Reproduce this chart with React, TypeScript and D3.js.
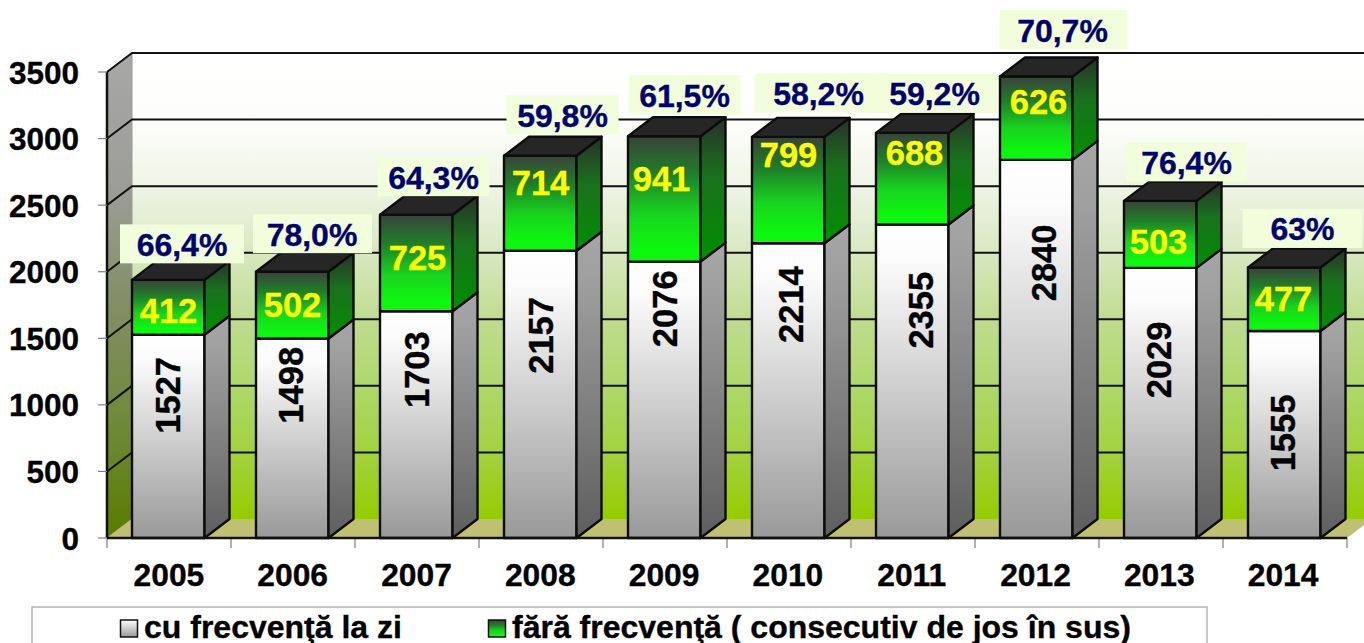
import React from "react";
import * as d3 from "d3";

const years = ["2005","2006","2007","2008","2009","2010","2011","2012","2013","2014"];
const dayValues = [1527,1498,1703,2157,2076,2214,2355,2840,2029,1555];
const distanceValues = [412,502,725,714,941,799,688,626,503,477];
const percentLabels = ["66,4%","78,0%","64,3%","59,8%","61,5%","58,2%","59,2%","70,7%","76,4%","63%"];
const yTicks = [0,500,1000,1500,2000,2500,3000,3500];
const legendDay = "cu frecvenţă la zi";
const legendDistance = "fără frecvenţă ( consecutiv de jos în sus)";

// hand placement of the labels, as in the source slide (pixel shifts from the default place)
const pctShiftX = [13.5,19.5,17,22,20,30,22,26,26,18];
const pctShiftY = [-36,-38,-38,-41,-41.5,-44,-39.6,-47,-39,-39];
const pctBoxLeft = [62,59,56,56,56,64,66,63,60,60];
const pctBoxRight = [62,60,56,56,56,65,63,65,60,60];
const greenShiftX = [0,0,1,0,-3,0,2,2,-2,-1];
const greenShiftY = [3.5,0,-4.5,-20.5,-20,-35.5,-26,-16.5,7.5,0];
const grayShiftX = [-0.5,-1.5,0.5,0.5,0.5,2.5,8.5,7.5,-1.5,-1.5];
const grayShiftY = [-41,-53,-55,-59,-91,-86,-71,-86,-43,-1.5];

const W = 1364, H = 643;
const depthX = 25, depthY = 19, barW = 72.5;
const FONT = "'Liberation Sans', Arial, sans-serif";
const HEAVY = { stroke: "currentColor", strokeWidth: 0.35 };

export default function App() {
  const y = d3.scaleLinear().domain([0, 3500]).range([538, 72]);
  const x = d3.scaleBand().domain(years).range([107, 1347]);
  const xLabel = d3.scaleBand().domain(years).range([107, 1345]);
  const poly = (p: number[][]) => p.map((q) => q.join(",")).join(" ");
  const x0 = 107, x1 = 1347;
  const stacked = d3.stack().keys(["day", "dist"])(
    years.map((yr, i) => ({ yr, day: dayValues[i], dist: distanceValues[i] })) as any
  );

  const stops = (s: [number, string][]) => s.map(([o, c], i) => <stop key={i} offset={o} stopColor={c} />);
  const box = (bx: number, top: number, bot: number, front: string, side: string, capTop: boolean) => (
    <g stroke="#0c0c0c" strokeWidth={2.4} strokeLinejoin="round">
      <rect x={bx} y={top} width={barW} height={bot - top} fill={`url(#${front})`} />
      <polygon points={poly([[bx + barW, top], [bx + barW + depthX, top - depthY], [bx + barW + depthX, bot - depthY], [bx + barW, bot]])} fill={`url(#${side})`} />
      {capTop && <polygon points={poly([[bx, top], [bx + depthX, top - depthY], [bx + barW + depthX, top - depthY], [bx + barW, top]])} fill="#262626" />}
    </g>
  );

  return (
    <svg width={W} height={H} viewBox={`0 0 ${W} ${H}`} style={{ position: "fixed", left: 0, top: 0, display: "block", background: "#fff" }}>
      <defs>
        <linearGradient id="wall" x1="0" y1="0" x2="0" y2="1">
          {stops([[0, "#ffffff"], [0.15, "#fdfdfa"], [0.29, "#eef4e4"], [0.43, "#d8e8c0"], [0.57, "#c0dc90"], [0.72, "#aed868"], [0.86, "#a2d23e"], [1, "#96cc00"]])}
        </linearGradient>
        <linearGradient id="leftWall" x1="0" y1="0" x2="0" y2="1">
          {stops([[0, "#a8a8a8"], [0.3, "#9a9c94"], [0.5, "#848f68"], [0.75, "#6f8a3c"], [1, "#5a7c00"]])}
        </linearGradient>
        <linearGradient id="grayFront" x1="0" y1="0" x2="0" y2="1">
          {stops([[0, "#ffffff"], [0.12, "#fbfbfb"], [1, "#999999"]])}
        </linearGradient>
        <linearGradient id="graySide" x1="0" y1="0" x2="0" y2="1">
          {stops([[0, "#a6a6a6"], [0.15, "#a0a0a0"], [1, "#5e5e5e"]])}
        </linearGradient>
        <linearGradient id="greenFront" x1="0" y1="0" x2="0" y2="1">
          {stops([[0, "#3a423a"], [0.3, "#1f7f28"], [0.62, "#18d41e"], [0.9, "#0cf80f"], [1, "#0cf80f"]])}
        </linearGradient>
        <linearGradient id="greenSide" x1="0" y1="0" x2="0" y2="1">
          {stops([[0, "#2a2f2a"], [0.4, "#1a701e"], [1, "#009000"]])}
        </linearGradient>
        <linearGradient id="swGray" x1="0" y1="0" x2="0" y2="1">
          {stops([[0, "#ffffff"], [1, "#999999"]])}
        </linearGradient>
      </defs>

      {/* walls and floor */}
      <rect x={x0 + depthX} y={y(3500) - depthY} width={x1 - x0} height={y(0) - y(3500)} fill="url(#wall)" />
      <polygon points={poly([[x0, y(3500)], [x0 + depthX, y(3500) - depthY], [x0 + depthX, y(0) - depthY], [x0, y(0)]])} fill="url(#leftWall)" stroke="#9a9a9a" strokeWidth={1} />
      <polygon points={poly([[x0, y(0)], [x0 + depthX, y(0) - depthY], [x1 + depthX, y(0) - depthY], [x1, y(0)]])} fill="#c0c072" />

      {/* gridlines */}
      {yTicks.filter((t) => t > 0).map((t) => (
        <g key={t} fill="none" stroke="#111" strokeWidth={2}>
          <polyline points={poly([[x0, y(t)], [x0 + depthX, y(t) - depthY], [x1 + depthX, y(t) - depthY]])} />
        </g>
      ))}

      {/* axes */}
      <line x1={x0} x2={x0} y1={y(3500)} y2={y(0)} stroke="#111" strokeWidth={2.5} />
      {yTicks.map((t) => (
        <g key={t}>
          <line x1={98} x2={x0} y1={y(t)} y2={y(t)} stroke="#808080" strokeWidth={1.2} />
          <text x={79} y={y(t) + 0.5} textAnchor="end" dominantBaseline="central" fontFamily={FONT} fontWeight="bold" fontSize={31.5} fill="#000" style={{ color: "#000" }} {...HEAVY}>{t}</text>
        </g>
      ))}
      {[...years.map((yr) => x(yr)!), x1].map((tx, i) => (
        <line key={i} x1={tx} x2={tx} y1={y(0)} y2={y(0) + 10} stroke="#808080" strokeWidth={1.2} />
      ))}

      {/* bars */}
      {years.map((yr, i) => {
        const bx = x(yr)! + depthX;
        const s0 = stacked[0][i], s1 = stacked[1][i];
        return (
          <g key={yr}>
            {box(bx, y(s0[1]), y(s0[0]), "grayFront", "graySide", false)}
            {box(bx, y(s1[1]), y(s1[0]), "greenFront", "greenSide", true)}
          </g>
        );
      })}
      <line x1={x0} x2={x1} y1={y(0)} y2={y(0)} stroke="#111" strokeWidth={2.6} />

      {/* value labels */}
      {years.map((yr, i) => {
        const cx = x(yr)! + depthX + 73 / 2;
        const s0 = stacked[0][i], s1 = stacked[1][i];
        const gx = cx + grayShiftX[i], gy = (y(s0[0]) + y(s0[1])) / 2 + grayShiftY[i];
        const tx = cx + pctShiftX[i], ty = y(s1[1]) + pctShiftY[i];
        return (
          <g key={yr} fontFamily={FONT} fontWeight="bold" textAnchor="middle" dominantBaseline="central">
            <text transform={`translate(${gx},${gy}) rotate(-90)`} fontSize={34.5} fill="#000" style={{ color: "#000" }} {...HEAVY}>{dayValues[i]}</text>
            <text x={cx + greenShiftX[i]} y={(y(s1[0]) + y(s1[1])) / 2 + greenShiftY[i]} fontSize={34.5} fill="#ffff00" style={{ color: "#ffff00" }} {...HEAVY}>{distanceValues[i]}</text>
            <rect x={tx - pctBoxLeft[i]} y={ty - 19.5} width={pctBoxLeft[i] + pctBoxRight[i]} height={39} fill="#f2fddc" />
          </g>
        );
      })}
      {years.map((yr, i) => {
        const cx = x(yr)! + depthX + 73 / 2;
        const s1 = stacked[1][i];
        return (
          <text key={yr} x={cx + pctShiftX[i]} y={y(s1[1]) + pctShiftY[i] + 1} fontFamily={FONT} fontWeight="bold" fontSize={32} fill="#00006e" style={{ color: "#00006e" }} {...HEAVY} textAnchor="middle" dominantBaseline="central">{percentLabels[i]}</text>
        );
      })}

      {/* category labels */}
      {years.map((yr) => (
        <text key={yr} x={xLabel(yr)! + xLabel.bandwidth() / 2} y={575} textAnchor="middle" dominantBaseline="central" fontFamily={FONT} fontWeight="bold" fontSize={31.8} fill="#000" style={{ color: "#000" }} {...HEAVY}>{yr}</text>
      ))}

      {/* legend */}
      <rect x={32} y={607} width={1175} height={60} fill="#fff" stroke="#b4b4b4" strokeWidth={1.5} />
      <rect x={120.5} y={620} width={17} height={17} fill="url(#swGray)" stroke="#111" strokeWidth={1.5} />
      <text x={144} y={638} fontFamily={FONT} fontWeight="bold" fontSize={32} fill="#000" style={{ color: "#000" }} {...HEAVY}>{legendDay}</text>
      <rect x={488.5} y={620} width={17} height={17} fill="url(#greenFront)" stroke="#111" strokeWidth={1.5} />
      <text x={512} y={638} fontFamily={FONT} fontWeight="bold" fontSize={32} fill="#000" style={{ color: "#000" }} {...HEAVY}>{legendDistance}</text>
    </svg>
  );
}
